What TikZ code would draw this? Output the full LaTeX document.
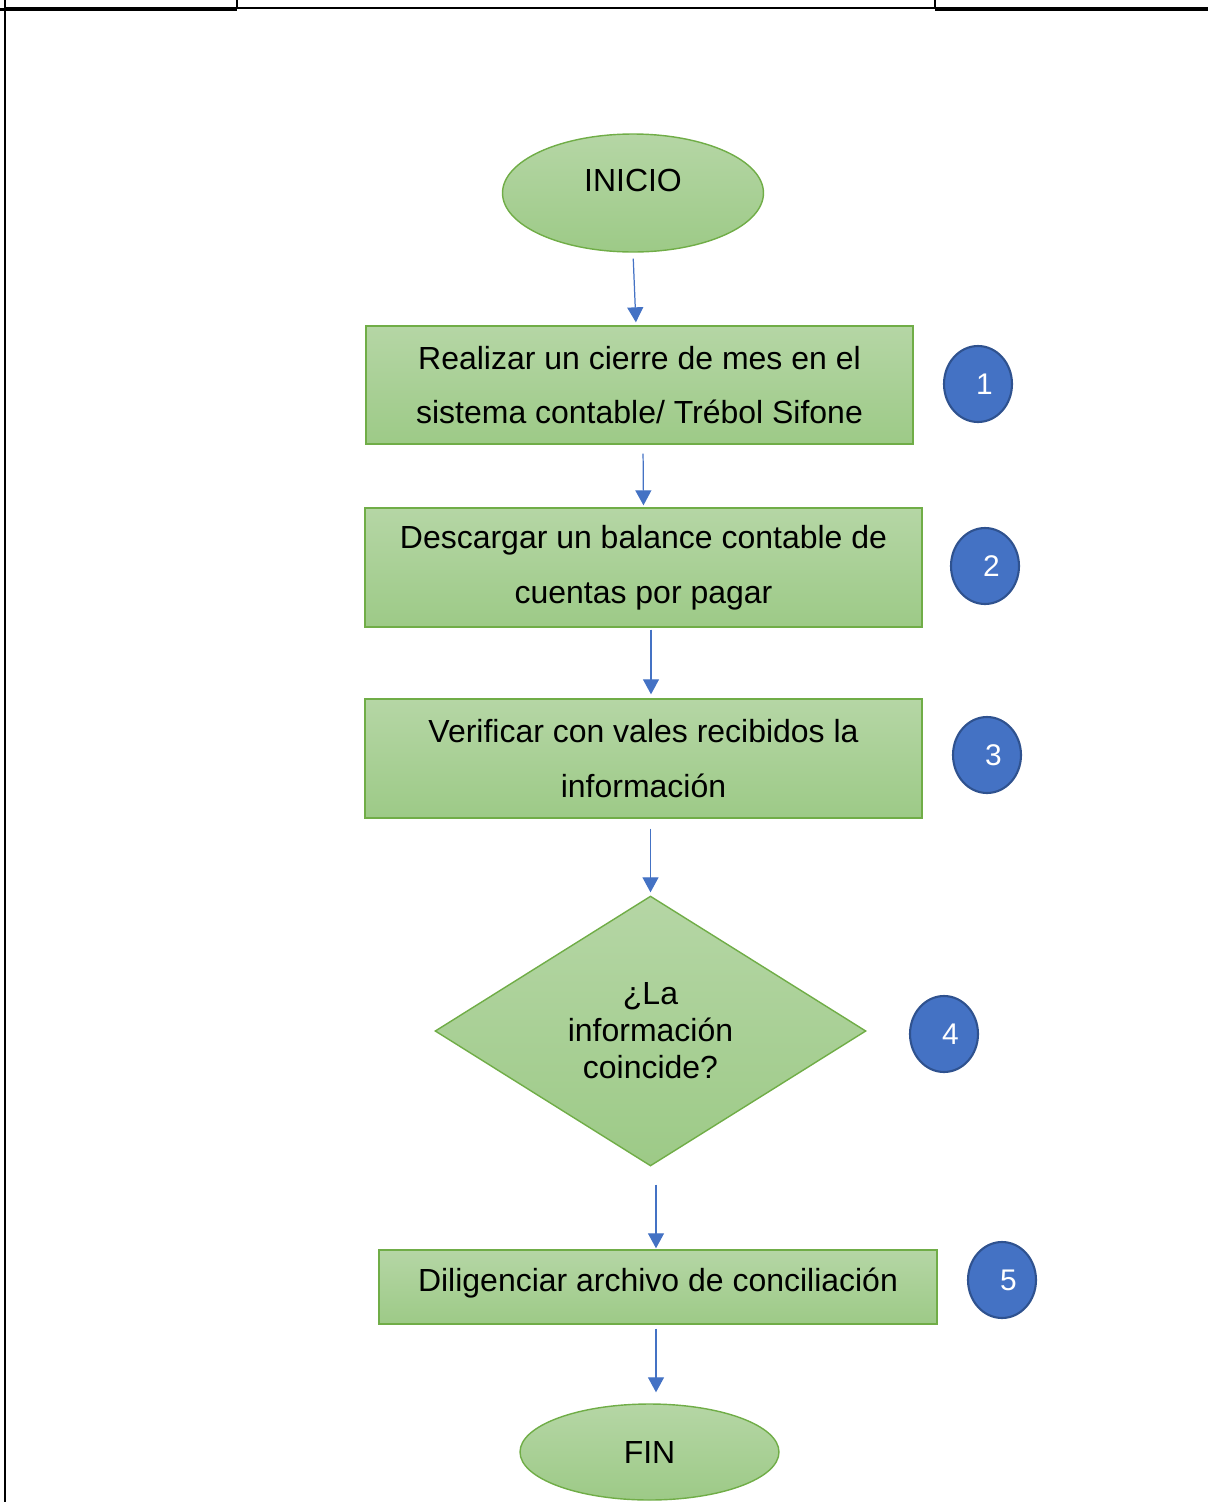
\documentclass[tikz,border=0pt]{standalone}
\usepackage{fontspec}
\setmainfont{Liberation Sans}
\usepackage{tikz}
\usetikzlibrary{positioning,arrows.meta,shapes.geometric,calc}

\definecolor{verdeA}{HTML}{B5D6A5}
\definecolor{verdeB}{HTML}{9DCA87}
\definecolor{verdeBorde}{HTML}{70AD47}
\definecolor{azulFlecha}{HTML}{4472C4}
\definecolor{azulBorde}{HTML}{2F528F}

\begin{document}
\begin{tikzpicture}[x=0.02cm, y=-0.02cm,
  paso/.style={draw=verdeBorde, line width=0.8pt, top color=verdeA, bottom color=verdeB,
               font=\fontsize{18.2}{31}\selectfont, align=center, inner sep=0pt},
  terminal/.style={paso, ellipse},
  decision/.style={paso, diamond, shape aspect=1.6, font=\fontsize{18.2}{21}\selectfont},
  numero/.style={ellipse, draw=azulBorde, line width=1.2pt, fill=azulFlecha, text=white,
                 minimum width=1.36cm, minimum height=1.52cm, inner sep=0pt,
                 font=\fontsize{17}{19}\selectfont, execute at begin node=\kern0.26cm},
  flecha/.style={draw=azulFlecha, line width=0.7pt,
                 -{Triangle[width=0.32cm, length=0.3cm]}}
]
\useasboundingbox (0,0) rectangle (1208,1502);

% Marco
\draw[line width=0.05cm] (5,0) -- (5,1502);
\draw[line width=0.05cm] (5,8) -- (1208,8);
\draw[line width=0.06cm] (0,9) -- (237,9) (935,9) -- (1208,9);
\draw[line width=0.04cm] (237,0) -- (237,8) (935,0) -- (935,8);

% Pasos
\node[terminal, minimum width=5.22cm, minimum height=2.36cm, text depth=0.52cm] (ini) at (633,193) {INICIO};
\node[paso, minimum width=10.94cm, minimum height=2.36cm] (p1) at (639.5,385)
  {Realizar un cierre de mes en el\\sistema contable/ Trébol Sifone};
\node[paso, minimum width=11.14cm, minimum height=2.38cm] (p2) at (643.5,567.5)
  {Descargar un balance contable de\\cuentas por pagar};
\node[paso, minimum width=11.14cm, minimum height=2.38cm] (p3) at (643.5,758.5)
  {Verificar con vales recibidos la\\información};
\node[decision, minimum width=8.62cm, minimum height=5.40cm] (dec) at (650.5,1031)
  {¿La\\información\\coincide?};
\node[paso, minimum width=11.16cm, minimum height=1.48cm, text depth=0.28cm] (p5) at (658,1287)
  {Diligenciar archivo de conciliación};
\node[terminal, minimum width=5.18cm, minimum height=1.92cm] (fin) at (649.5,1452) {FIN};

% Numeros
\node[numero] (n1) at (978,384) {1};
\node[numero] (n2) at (985,566) {2};
\node[numero] (n3) at (987,755) {3};
\node[numero] (n4) at (944,1034) {4};
\node[numero] (n5) at (1002,1280) {5};

% Flechas
\draw[flecha, shorten <=0.12cm, shorten >=0.06cm] (ini.south) -- ([xshift=-0.07cm]p1.north);
\draw[flecha, shorten <=0.18cm, shorten >=0.04cm] ([xshift=0.07cm]p1.south) -- (p2.north);
\draw[flecha, shorten <=0.04cm, shorten >=0.08cm] ([xshift=0.15cm]p2.south) -- ([xshift=0.15cm]p3.north);
\draw[flecha, shorten <=0.2cm, shorten >=0.06cm] (p3.south -| dec.north) -- (dec.north);
\draw[flecha, shorten <=0.36cm, shorten >=0.02cm] ([xshift=-0.04cm]dec.south -| p5.north) -- ([xshift=-0.04cm]p5.north);
\draw[flecha, shorten <=0.08cm, shorten >=0.22cm] ([xshift=-0.04cm]p5.south) -- ([xshift=-0.04cm]p5.south |- fin.north);

\end{tikzpicture}
\end{document}
